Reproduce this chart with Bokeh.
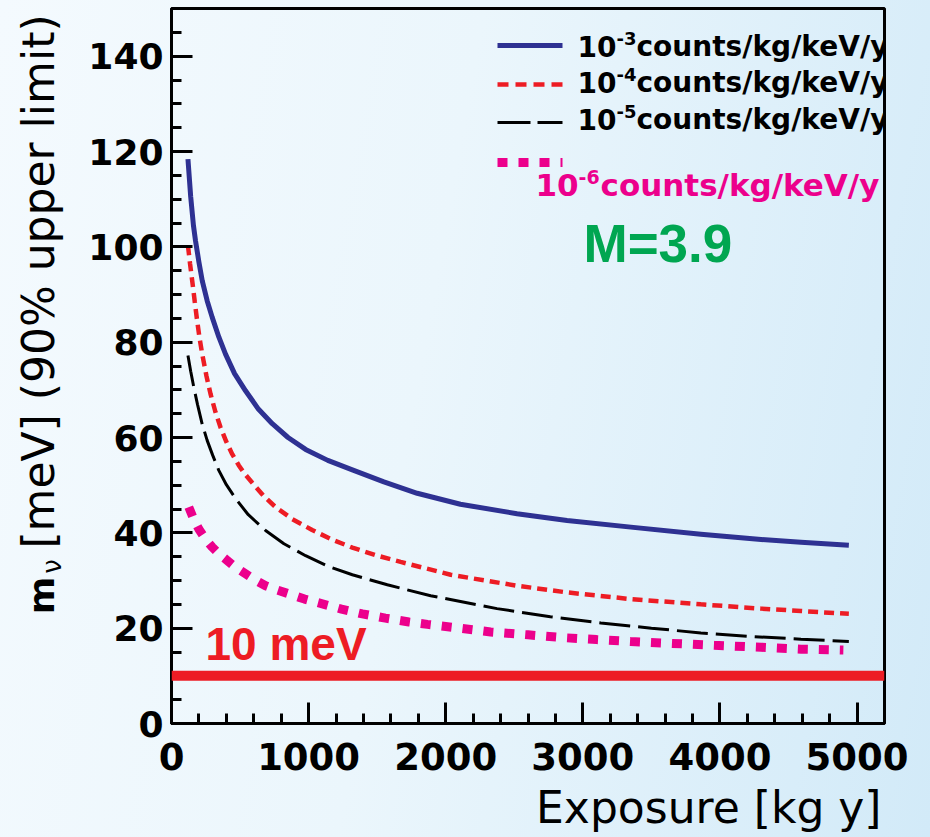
import numpy as np
from bokeh.plotting import figure
from bokeh.layouts import row, column
from bokeh.models import Label, SingleIntervalTicker, Range1d, Span
from bokeh.embed import file_html
from bokeh.resources import INLINE

# 90% CL upper limit on the neutrino mass (meV) versus exposure (kg y),
# one curve per background index (counts/kg/keV/y)
exp_b3 = [120, 140, 160, 175, 200, 224, 260, 297, 345, 394, 460, 540, 630, 735, 850,
          978, 1140, 1319, 1549, 1792, 2107, 2520, 2885, 3350, 3861, 4300, 4591, 4940]
mnu_b3 = [118.4, 110.5, 104.5, 101.3, 96.8, 92.9, 88.7, 85.2, 81.1, 77.5, 73.4, 69.8,
          66.1, 62.9, 60.0, 57.5, 55.2, 53.2, 50.7, 48.3, 46.0, 44.0, 42.6, 41.2, 39.7,
          38.6, 38.0, 37.4]

exp_b4 = [120, 135, 151, 170, 187, 205, 224, 255, 285, 320, 358, 400, 443, 490, 528,
          589, 670, 759, 880, 1026, 1170, 1319, 1490, 1671, 2036, 2520, 2885, 3350,
          3861, 4300, 4591, 4940]
mnu_b4 = [100.3, 96.5, 92.9, 88.4, 84.5, 80.8, 77.5, 72.9, 69.1, 65.4, 62.1, 59.1,
          56.5, 54.2, 52.6, 50.5, 47.8, 45.4, 42.9, 40.6, 38.6, 36.9, 35.3, 33.9, 31.2,
          28.9, 27.5, 26.1, 25.0, 24.1, 23.6, 23.0]

exp_b5 = [120, 140, 163, 190, 224, 260, 300, 345, 400, 467, 560, 686, 820, 978, 1140,
          1319, 1574, 1890, 2374, 2763, 3131, 3500, 3861, 4200, 4591, 4940]
mnu_b5 = [77.2, 73.9, 70.5, 66.9, 62.8, 59.4, 56.3, 53.1, 50.1, 47.2, 43.8, 40.5, 37.7,
          35.2, 33.0, 31.2, 29.1, 26.8, 24.1, 22.4, 21.1, 20.0, 19.0, 18.3, 17.7, 17.2]

exp_b6 = [126, 160, 199, 245, 297, 350, 406, 470, 540, 610, 686, 770, 856, 970, 1100,
          1240, 1392, 1560, 1732, 1867, 2100, 2328, 2600, 2863, 3100, 3350, 3650, 3958,
          4300, 4591, 4900]
mnu_b6 = [45.4, 43.0, 40.8, 38.8, 37.0, 35.5, 34.2, 32.7, 31.4, 30.1, 28.9, 28.0, 27.2,
          26.1, 25.1, 24.0, 23.0, 22.1, 21.3, 20.8, 20.0, 19.2, 18.6, 18.0, 17.6, 17.2,
          16.8, 16.4, 16.0, 15.6, 15.4]

target_mass = 10          # meV reference line
x_ticks_step = 1000
y_ticks_step = 20
x_title = "Exposure [kg y]"
legend_exponents = ["-3", "-4", "-5", "-6"]
legend_unit = "counts/kg/keV/y"

BLUE, RED, BLACK, PINK, GREEN = "#2e3192", "#ed1c24", "#000000", "#ec008c", "#00a651"
BACKGROUND = "linear-gradient(100deg, #f4fafe 0%, #ebf6fc 45%, #d2eaf8 100%)"

W, H = 930, 837
LEFT_W = 70               # strip holding the vertical axis title
TOP_H = 785               # height of the plot row; the strip below holds the x title
FL, FR, FT, FB = 171, 884, 8, 723          # frame edges in page pixels
X0, X1, Y0, Y1 = 0, 5200, 0, 150
SHIFT = 0.425             # Label baseline correction, in em


def px(x):
    """page pixel column -> exposure units"""
    return X0 + (x - FL) * (X1 - X0) / (FR - FL)


def py(y):
    """page pixel row -> meV units"""
    return Y0 + (FB - y) * (Y1 - Y0) / (FB - FT)


def add_text(fig, text, x, y, size, color="black", style="bold", font="DejaVu Sans",
             align="left", baseline="alphabetic", angle=0.0):
    fig.add_layout(Label(x=x, y=y, text=text, text_font=font, text_font_style=style,
                         text_font_size=f"{size}px", text_color=color,
                         text_align=align, text_baseline=baseline, angle=angle))


def blank_figure(width, height, y_lo=0, y_hi=None):
    f = figure(width=width, height=height, x_range=Range1d(0, width),
               y_range=Range1d(y_lo, height if y_hi is None else y_hi),
               output_backend="svg", toolbar_location=None,
               x_axis_location=None, y_axis_location=None, min_border=0)
    f.grid.visible = False
    f.outline_line_color = None
    f.background_fill_color = None
    f.border_fill_color = None
    return f


# ---- main plot ----
p = figure(width=W - LEFT_W, height=TOP_H, x_range=Range1d(X0, X1),
           y_range=Range1d(Y0, Y1), output_backend="svg", toolbar_location=None,
           min_border_left=FL - LEFT_W, min_border_right=W - FR,
           min_border_top=FT, min_border_bottom=TOP_H - FB)
p.background_fill_color = None
p.border_fill_color = None
p.grid.visible = False
p.outline_line_color = "black"
p.outline_line_width = 3

p.xaxis.ticker = SingleIntervalTicker(interval=x_ticks_step, num_minor_ticks=5)
p.yaxis.ticker = SingleIntervalTicker(interval=y_ticks_step, num_minor_ticks=4)
for ax in (p.xaxis, p.yaxis):
    ax.axis_line_width = 3
    ax.major_tick_line_width = 3
    ax.minor_tick_line_width = 3
    ax.major_tick_in = 21
    ax.major_tick_out = 0
    ax.minor_tick_in = 10
    ax.minor_tick_out = 0
    ax.major_label_text_font = "DejaVu Sans"
    ax.major_label_text_font_style = "bold"
    ax.major_label_text_color = "black"
p.yaxis.major_label_text_font_size = "36px"
p.xaxis.major_label_text_font_size = "37px"
p.yaxis.major_label_standoff = 8
p.xaxis.major_label_standoff = 19

# 10 meV target
p.add_layout(Span(location=target_mass, dimension="width", line_color=RED, line_width=10))

# curves
p.line(exp_b3, mnu_b3, line_color=BLUE, line_width=5, line_join="round")
p.line(exp_b4, mnu_b4, line_color=RED, line_width=4.5, line_dash="10 6")
p.line(exp_b5, mnu_b5, line_color=BLACK, line_width=3, line_dash="31 8")
p.line(exp_b6, mnu_b6, line_color=PINK, line_width=9, line_dash="10 11")

# legend samples
lx = [px(497), px(562)]
p.line(lx, [py(45)] * 2, line_color=BLUE, line_width=5)
p.line(lx, [py(84)] * 2, line_color=RED, line_width=4.5, line_dash="11 7")
p.line(lx, [py(122)] * 2, line_color=BLACK, line_width=3, line_dash="33 7")
p.line(lx, [py(162)] * 2, line_color=PINK, line_width=9, line_dash="10 11")


def main_text(text, x_pix, base_pix, size, **kw):
    add_text(p, text, px(x_pix), py(base_pix - SHIFT * size), size, **kw)


# legend entries: 10^exp counts/kg/keV/y
for exp_txt, base in zip(legend_exponents[:3], [58, 94, 131]):
    main_text("10", 577, base, 28)
    main_text(exp_txt, 616, base - 12, 18)
    main_text(legend_unit, 636, base, 28)

main_text("10", 535, 198, 31, color=PINK)
main_text(legend_exponents[3], 578, 185, 19, color=PINK)
main_text(legend_unit, 600, 198, 31, color=PINK)

main_text("M=3.9", 583, 266, 53, color=GREEN, font="Liberation Sans")
main_text("10 meV", 205, 663, 46, color=RED, font="Liberation Sans")

# ---- vertical axis title: bold m, subscript nu, then units (centred pieces) ----
# the strip's frame lines up with the main frame (rows FT..FB), so map rows 1:1
left = blank_figure(LEFT_W, TOP_H, y_lo=TOP_H - FB, y_hi=TOP_H - FT)


def left_text(text, center_x, center_row, size, **kw):
    add_text(left, text, center_x, TOP_H - center_row, size, align="center",
             baseline="middle", angle=np.pi / 2, **kw)


left_text("m", 41, 595, 36)
left_text("\u03bd", 51, 566, 26, style="normal")
left_text("[meV] (90% upper limit)", 38, 281, 44, style="normal")

# ---- horizontal axis title, right-aligned under the frame ----
bottom = blank_figure(W, H - TOP_H)
add_text(bottom, x_title, 881, (H - 826) + SHIFT * 44, 44, style="normal",
         align="right")

page = column(row(left, p), bottom)
page.styles = {"background": BACKGROUND}

open("out.html", "w").write(file_html(page, INLINE))
